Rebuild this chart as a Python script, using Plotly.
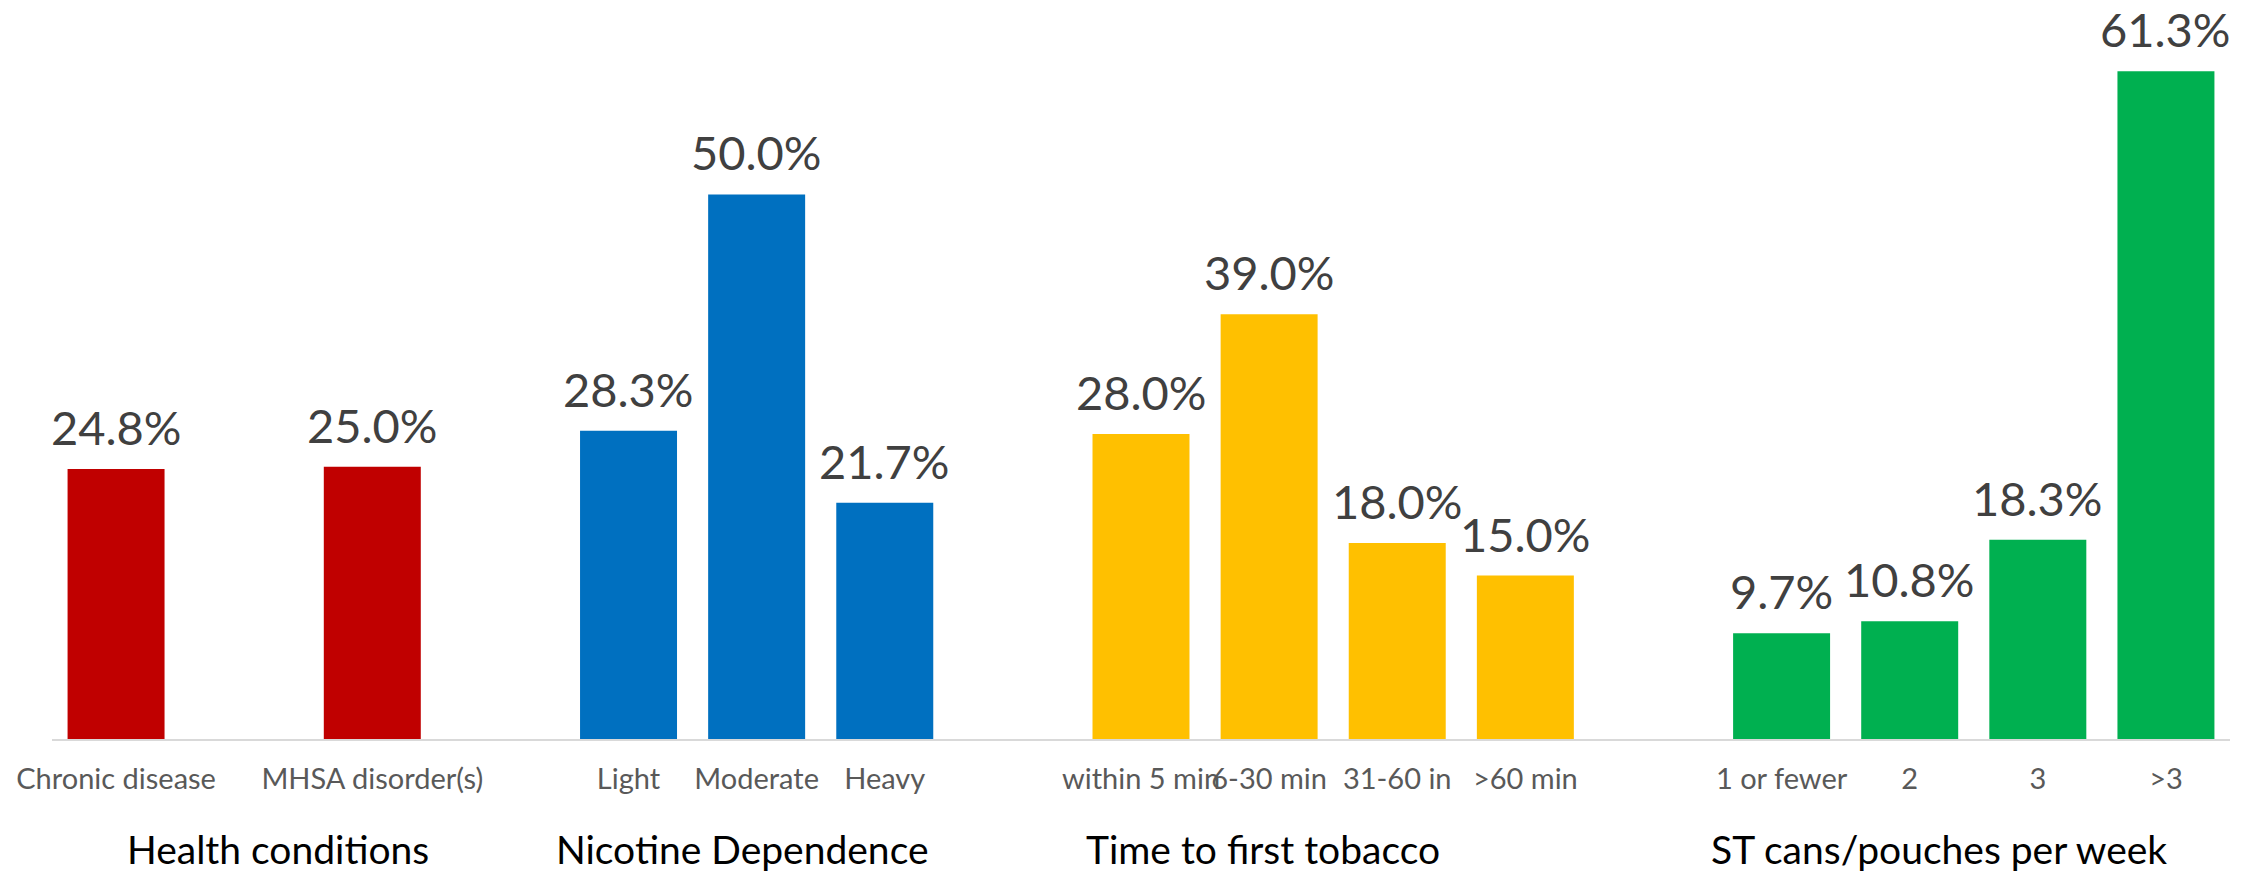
import plotly.graph_objects as go

# ---- data ----
health_cats = ["Chronic disease", "MHSA disorder(s)"]
health_vals = [24.8, 25.0]
nic_cats = ["Light", "Moderate", "Heavy"]
nic_vals = [28.3, 50.0, 21.7]
time_cats = ["within 5 min", "6-30 min", "31-60 in", ">60 min"]
time_vals = [28.0, 39.0, 18.0, 15.0]
st_cats = ["1 or fewer", "2", "3", ">3"]
st_vals = [9.7, 10.8, 18.3, 61.3]
group_titles = ["Health conditions", "Nicotine Dependence", "Time to first tobacco", "ST cans/pouches per week"]

# full category order with blank spacer slots
category_order = ["Chronic disease", " ", "MHSA disorder(s)", "  ",
                  "Light", "Moderate", "Heavy", "   ",
                  "within 5 min", "6-30 min", "31-60 in", ">60 min", "    ",
                  "1 or fewer", "2", "3", ">3"]

colors = ["#C00000", "#0070C0", "#FFC000", "#00B050"]
groups = [(health_cats, health_vals), (nic_cats, nic_vals), (time_cats, time_vals), (st_cats, st_vals)]

fig = go.Figure()
annotations = []
for (cats, vals), col in zip(groups, colors):
    fig.add_trace(go.Bar(x=cats, y=vals, marker=dict(color=col, line=dict(width=0)),
                         showlegend=False, hoverinfo="x+y"))
    for c, v in zip(cats, vals):
        annotations.append(dict(x=category_order.index(c), y=v, xref="x", yref="y",
                                text=f"{v:.1f}%", showarrow=False,
                                xanchor="center", yanchor="bottom", yshift=12,
                                font=dict(family="Lato", size=47, color="#404040")))

# group titles below the axis
group_x = [0.1039, 0.3170, 0.5559, 0.8664]
for t, gx in zip(group_titles, group_x):
    annotations.append(dict(x=gx, y=0, xref="paper", yref="paper", text=t,
                            showarrow=False, xanchor="center", yanchor="top", yshift=-85,
                            font=dict(family="Lato", size=39, color="#000000")))

fig.update_layout(
    width=2265, height=873,
    margin=dict(l=52, r=35, t=10, b=134),
    paper_bgcolor="white", plot_bgcolor="white",
    barmode="overlay", bargap=0.243,
    annotations=annotations,
    font=dict(family="Lato"),
    xaxis=dict(type="category", categoryorder="array", categoryarray=category_order,
               range=[-0.5, len(category_order) - 0.5], automargin=False,
               showline=True, linecolor="#D9D9D9", linewidth=2,
               showgrid=False, ticks="", tickangle=0, ticklabelstandoff=13,
               tickfont=dict(family="Lato", size=29, color="#595959")),
    yaxis=dict(range=[0, 66.93], visible=False, showgrid=False, zeroline=False,
               automargin=False),
)

fig.write_html("out.html")
